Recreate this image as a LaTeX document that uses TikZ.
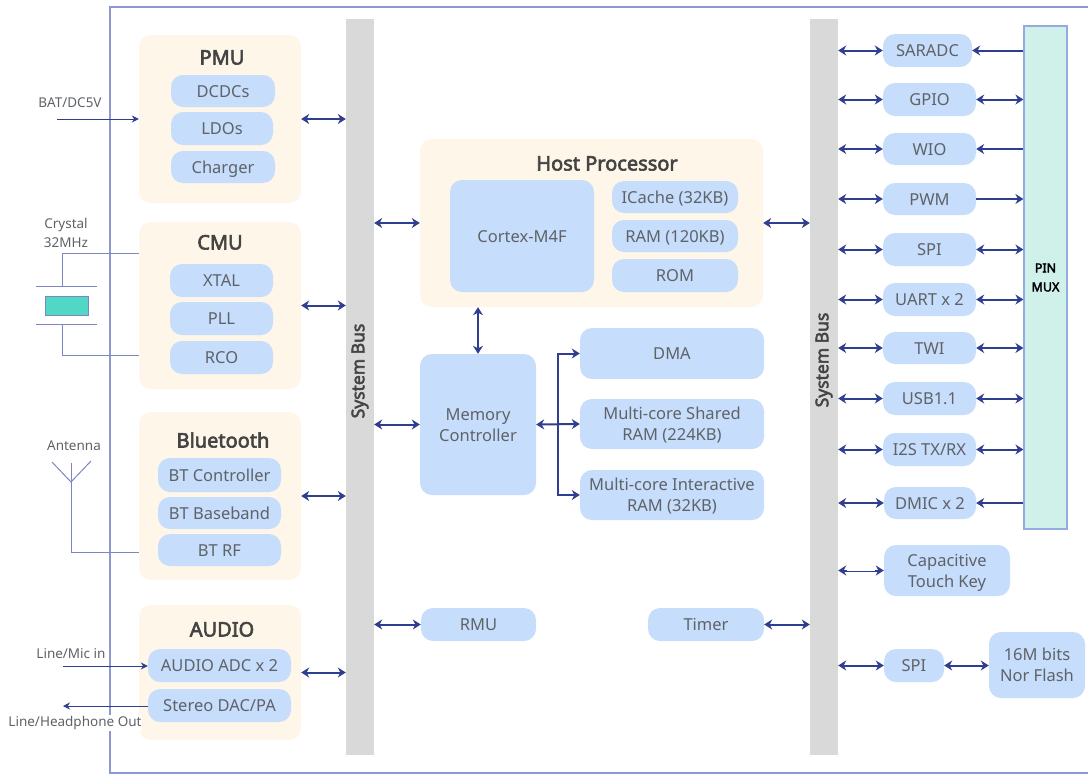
\documentclass[tikz,border=0pt]{standalone}
\usepackage{fontspec}
\setmainfont{Noto Sans}[BoldFont={Noto Sans},BoldFeatures={FakeBold=3}]
\usetikzlibrary{arrows.meta,calc}
\definecolor{navy}{HTML}{2F3E8F}
\definecolor{frameblue}{HTML}{8E97CE}
\definecolor{wire}{HTML}{7C86C4}
\definecolor{cream}{HTML}{FEF6E8}
\definecolor{pale}{HTML}{C6DDFB}
\definecolor{busgray}{HTML}{D9D9D9}
\definecolor{txt}{HTML}{5F6368}
\definecolor{ttl}{HTML}{444444}
\definecolor{mux}{HTML}{CFF1EA}
\definecolor{muxline}{HTML}{94AAE2}
\definecolor{xtalfill}{HTML}{50D8C4}
\newcommand{\bx}[7][]{%
  \pgfmathsetmacro{\bxw}{#5-#3}\pgfmathsetmacro{\bxh}{#6-#4}%
  \pgfmathsetmacro{\bxx}{(#3+#5)/2}\pgfmathsetmacro{\bxy}{(#4+#6)/2}%
  \node[#1,minimum width=\bxw pt,minimum height=\bxh pt] (#2) at (\bxx,\bxy) {#7};}
\tikzset{
  group/.style={fill=cream,rounded corners=12pt,inner sep=0pt},
  block/.style={fill=pale,rounded corners=12pt,inner sep=0pt,align=center,text=txt,text height=12pt,text depth=0pt,font=\fontsize{16.5}{21}\selectfont},
  twoline/.style={block,text height=33pt,text depth=0pt},
  bus/.style={fill=busgray,inner sep=0pt},
  title/.style={text=ttl,text height=13pt,text depth=0pt,font=\fontsize{20}{22}\selectfont\bfseries,inner sep=0pt},
  ext/.style={text=txt,font=\fontsize{13.5}{19}\selectfont,inner sep=0pt,align=center},
  both/.style={navy,line width=2pt,{Stealth[length=8pt,width=10pt]}-{Stealth[length=8pt,width=10pt]}},
  toend/.style={navy,line width=2pt,-{Stealth[length=8pt,width=10pt]}},
  thinend/.style={navy,line width=1pt,-{Stealth[length=7pt,width=7pt]}},
  wireline/.style={wire,line width=1pt},
  busname/.style={rotate=90,text=ttl,font=\fontsize{17.5}{20}\selectfont\bfseries,inner sep=0pt},
}
\begin{document}
\begin{tikzpicture}[x=1pt,y=-1pt]
\useasboundingbox (0,0) rectangle (1088,774);
\fill[white] (0,0) rectangle (1088,774);
\draw[frameblue,line width=1.3pt] (1088,7) -- (110,7) -- (110,773) -- (1088,773);
% groups
\bx[group]{pmu}{139}{35}{301}{203}{}
\bx[group]{cmu}{139}{222}{301}{389}{}
\bx[group]{bt}{139}{412}{301}{580}{}
\bx[group]{audio}{139}{605}{301}{740}{}
\bx[group]{host}{420}{139}{763}{307}{}
\node[title] (tpmu) at (222,58) {PMU};
\node[title] (tcmu) at (220,243) {CMU};
\node[title] (tbt) at (223,441) {Bluetooth};
\node[title] (taudio) at (222,630) {AUDIO};
\node[title] (thost) at (607,164) {Host Processor};
% buses
\bx[bus]{busl}{346}{19}{374}{755}{}
\bx[bus]{busr}{810}{19}{838}{755}{}
\node[busname] (tbusl) at (360,371) {System Bus};
\node[busname] (tbusr) at (824,360) {System Bus};
% blocks left
\bx[block]{dcdc}{171}{75}{275}{107}{DCDCs}
\bx[block]{ldo}{171}{112}{273}{145}{LDOs}
\bx[block]{chg}{171}{151}{275}{183}{Charger}
\bx[block]{xtal}{170}{264}{273}{297}{XTAL}
\bx[block]{pll}{170}{302}{273}{335}{PLL}
\bx[block]{rco}{170}{341}{273}{374}{RCO}
\bx[block]{btc}{158}{458}{281}{492}{BT Controller}
\bx[block]{btb}{158}{497}{281}{529}{BT Baseband}
\bx[block]{btr}{158}{534}{281}{566}{BT RF}
\bx[block]{adc}{148}{649}{291}{682}{AUDIO ADC x 2}
\bx[block]{dac}{148}{689}{291}{722}{Stereo DAC/PA}
% centre
\bx[block]{cortex}{450}{180}{594}{292}{Cortex-M4F}
\bx[block]{icache}{612}{181}{738}{213}{ICache (32KB)}
\bx[block]{ram}{612}{220}{738}{252}{RAM (120KB)}
\bx[block]{rom}{612}{259}{738}{292}{ROM}
\bx[twoline]{mem}{420}{354}{536}{495}{Memory\\Controller}
\bx[block]{dma}{580}{328}{764}{379}{DMA}
\bx[twoline]{shared}{580}{399}{764}{449}{Multi-core Shared\\RAM (224KB)}
\bx[twoline]{inter}{580}{470}{764}{520}{Multi-core Interactive\\RAM (32KB)}
\bx[block]{rmu}{421}{608}{536}{641}{RMU}
\bx[block]{timer}{648}{608}{764}{641}{Timer}
% right
\bx[block]{sar}{883}{34}{972}{67}{SARADC}
\bx[block]{gpio}{883}{83}{976}{116}{GPIO}
\bx[block]{wio}{883}{133}{976}{165}{WIO}
\bx[block]{pwm}{883}{183}{976}{215}{PWM}
\bx[block]{spia}{883}{233}{976}{266}{SPI}
\bx[block]{uart}{883}{283}{976}{316}{UART x 2}
\bx[block]{twi}{883}{332}{976}{364}{TWI}
\bx[block]{usb}{883}{382}{976}{415}{USB1.1}
\bx[block]{iis}{883}{433}{976}{466}{I2S TX/RX}
\bx[block]{dmic}{884}{487}{976}{519}{DMIC x 2}
\bx[twoline]{cap}{884}{545}{1010}{596}{Capacitive\\Touch Key}
\bx[block]{spib}{884}{649}{944}{682}{SPI}
\bx[twoline]{flash}{989}{632}{1085}{698}{16M bits\\Nor Flash}
\bx[draw=muxline,line width=1.2pt,fill=mux,inner sep=0pt,align=center,font=\fontsize{12.5}{19}\selectfont\bfseries,text=black]{pin}{1024}{26}{1067}{529}{PIN\\MUX}
% connectors: groups to left bus
\foreach \g in {pmu,cmu,bt,audio} \draw[both] (\g.east) -- (busl.west |- \g.east);
\draw[both] (busl.east |- host.west) -- (host.west);
\draw[both] (host.east) -- (busr.west |- host.east);
\draw[both] (busl.east |- mem.west) -- (mem.west);
\draw[both] (busl.east |- rmu.west) -- (rmu.west);
\draw[both] (timer.east) -- (busr.west |- timer.east);
\draw[both] (mem.north) -- (mem.north |- host.south);
% memory fan-out
\draw[both] (mem.east) -- (shared.west);
\draw[toend] ($(mem.east)!0.5!(shared.west)$) |- (dma.west);
\draw[toend] ($(mem.east)!0.5!(shared.west)$) |- (inter.west);
% right bus to peripherals
\foreach \p in {sar,gpio,wio,pwm,spia,uart,twi,usb,iis,dmic,cap,spib} \draw[both] (busr.east |- \p.west) -- (\p.west);
\draw[white,line width=0.7pt,shorten >=9pt,shorten <=9pt] (busr.east |- cap.west) -- (cap.west);
\foreach \p in {gpio,spia,uart,twi,usb,iis} \draw[both] (\p.east) -- (pin.west |- \p.east);
\foreach \p in {sar,wio,dmic} \draw[toend] (pin.west |- \p.east) -- (\p.east);
\draw[toend] (pwm.east) -- (pin.west |- pwm.east);
\draw[both] (spib.east) -- (flash.west |- spib.east);
% external: power
\node[ext] (lbat) at (70,103) {BAT/DC5V};
\coordinate (cbat) at (57,119);
\draw[thinend] (cbat) -- (pmu.west |- cbat);
% crystal
\node[ext] (lxtal) at (66,233) {Crystal\\32MHz};
\bx[draw=wire,line width=1pt,fill=xtalfill,inner sep=0pt]{crystal}{45}{296}{88}{315}{}
\coordinate (pta) at (36,286); \coordinate (ptb) at (97,286);
\coordinate (pba) at (36,324); \coordinate (pbb) at (97,324);
\coordinate (ptm) at (62,286); \coordinate (pbm) at (62,324);
\draw[wireline] (pta) -- (ptb);
\draw[wireline] (pba) -- (pbb);
\coordinate (cmut) at (139,253); \coordinate (cmub) at (139,355);
\draw[wireline] (ptm) |- (cmut);
\draw[wireline] (pbm) |- (cmub);
% antenna
\node[ext] (lant) at (74,446) {Antenna};
\coordinate (anttop) at (71,463); \coordinate (antj) at (71,482);
\coordinate (antl) at (52,462); \coordinate (antr) at (91,461);
\coordinate (btin) at (139,552);
\draw[wireline] (anttop) |- (btin);
\draw[wireline] (antl) -- (antj) -- (antr);
% audio
\node[ext] (lmic) at (71,654) {Line/Mic in};
\coordinate (cmic) at (63,666); \coordinate (cout) at (63,706);
\draw[thinend] (cmic) -- (adc.west |- cmic);
\draw[thinend] (dac.west |- cout) -- (cout);
\node[ext,fill=white,inner ysep=1pt,inner xsep=0pt] (lout) at (75,723) {Line/Headphone Out};
\end{tikzpicture}
\end{document}
